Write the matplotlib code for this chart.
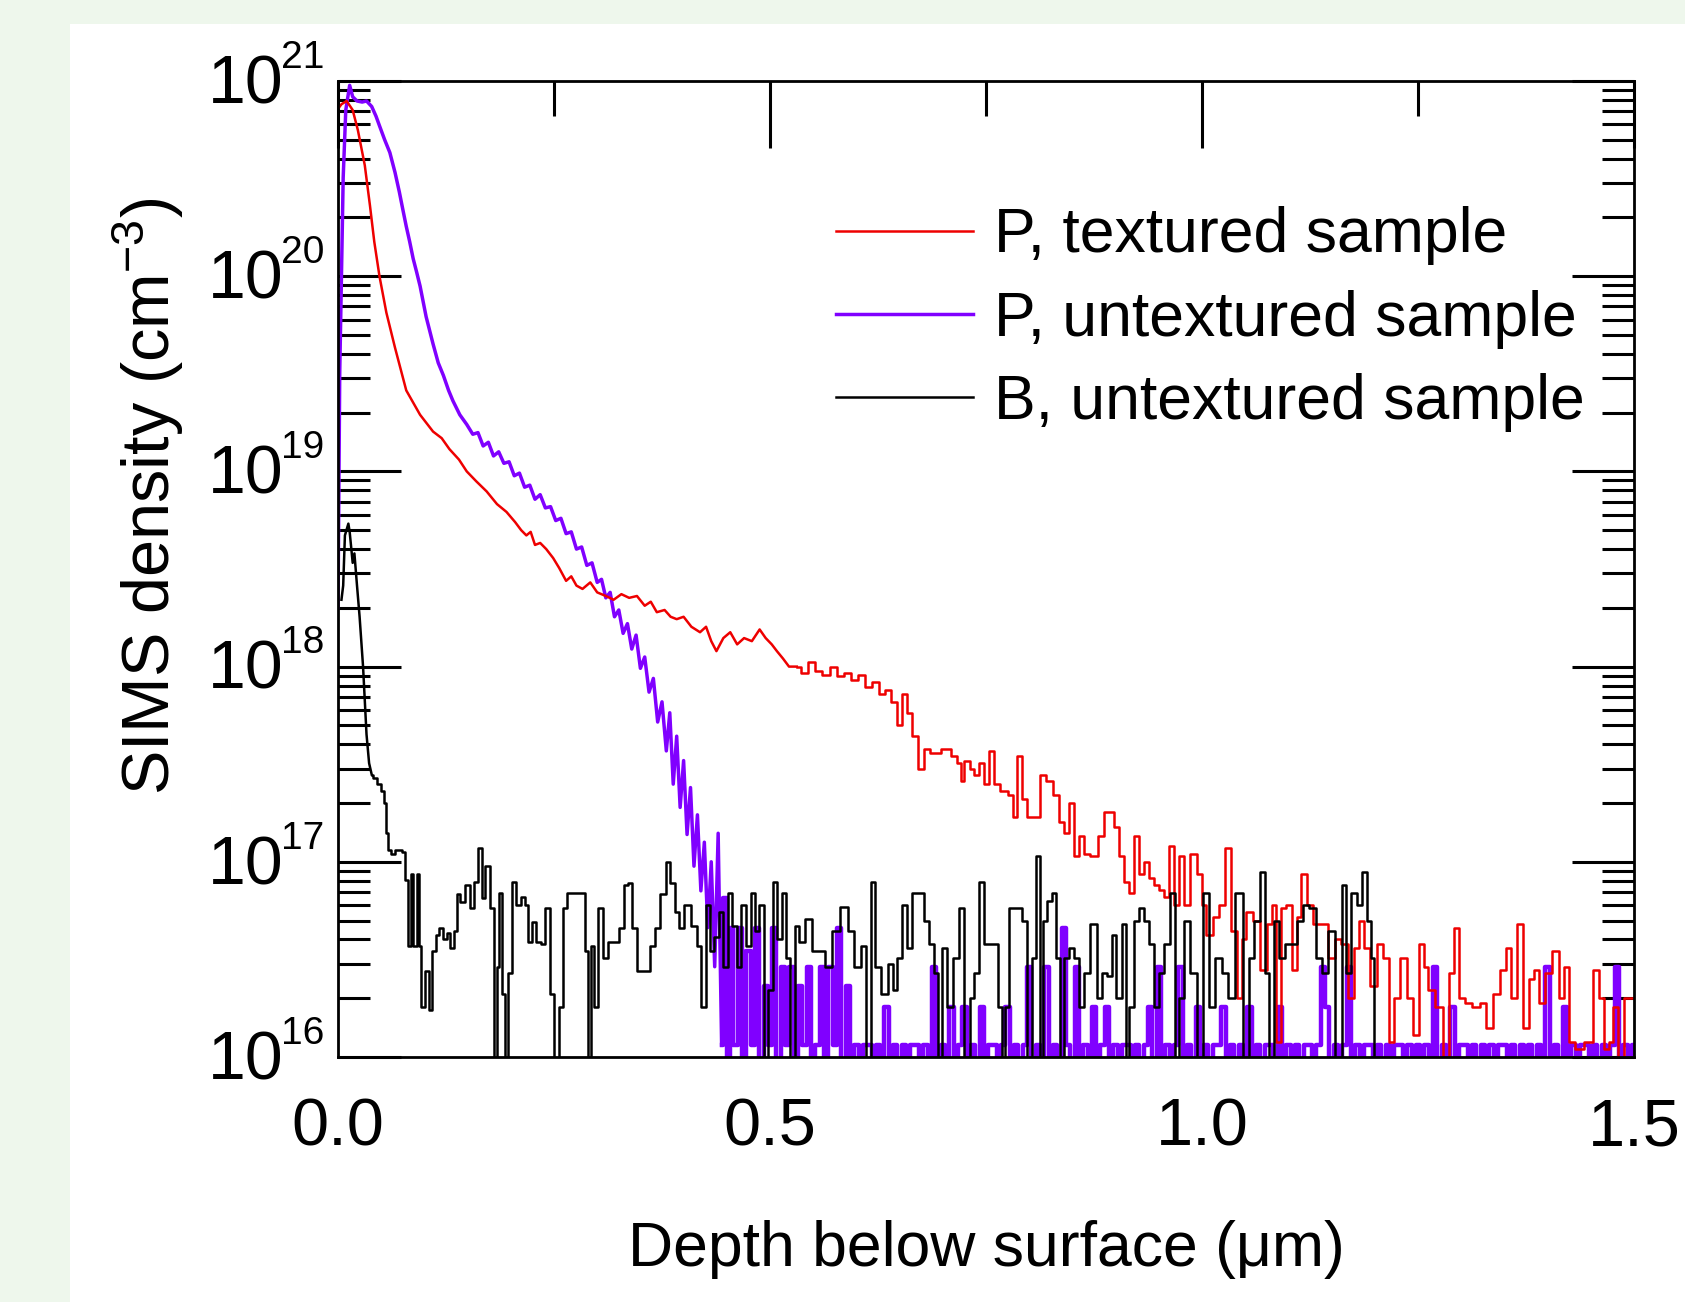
import matplotlib
matplotlib.use("Agg")
import matplotlib.pyplot as plt
from matplotlib.patches import Rectangle
from matplotlib.ticker import LogLocator, NullFormatter

plt.rcParams['font.family'] = ['Liberation Sans', 'DejaVu Sans']
plt.rcParams['mathtext.fontset'] = 'custom'
plt.rcParams['mathtext.rm'] = 'Liberation Sans'
plt.rcParams['mathtext.it'] = 'Liberation Sans:italic'
plt.rcParams['mathtext.bf'] = 'Liberation Sans:bold'
plt.rcParams['path.simplify'] = False

series_labels = ['P, textured sample', 'P, untextured sample', 'B, untextured sample']
x_ticks = [0.0, 0.5, 1.0, 1.5]
x_tick_labels = ['0.0', '0.5', '1.0', '1.5']
x_minor_ticks = [0.25, 0.75, 1.25]
y_exponents = [16, 17, 18, 19, 20, 21]

# P, textured sample (depth in um, density in cm^-3)
red_head_depth = [0.0, 0.004, 0.01, 0.017, 0.023, 0.031, 0.037, 0.042, 0.048, 0.056,
                  0.066, 0.079, 0.095, 0.11, 0.12, 0.129, 0.14, 0.149, 0.16, 0.172,
                  0.184, 0.195, 0.205, 0.212, 0.218, 0.223, 0.228, 0.234, 0.241, 0.249,
                  0.256, 0.264, 0.27, 0.276, 0.283, 0.292, 0.3, 0.31, 0.319, 0.328,
                  0.337, 0.346, 0.355, 0.362, 0.369, 0.378, 0.385, 0.392, 0.4, 0.409,
                  0.419, 0.426, 0.432, 0.438, 0.446, 0.454, 0.462, 0.47, 0.479, 0.488,
                  0.495, 0.502, 0.508, 0.515, 0.522, 0.531]
red_head_density = [7.2e20, 7.6e20, 7.9e20, 7.1e20, 5.6e20, 3.7e20, 2.3e20, 1.5e20, 1.0e20, 6.5e19,
                    4.3e19, 2.6e19, 1.95e19, 1.6e19, 1.48e19, 1.3e19, 1.15e19, 1.0e19, 8.9e18, 7.9e18,
                    6.8e18, 6.2e18, 5.5e18, 5.0e18, 4.7e18, 4.9e18, 4.2e18, 4.3e18, 4.0e18, 3.6e18,
                    3.2e18, 2.75e18, 2.9e18, 2.6e18, 2.5e18, 2.7e18, 2.4e18, 2.3e18, 2.2e18, 2.35e18,
                    2.25e18, 2.3e18, 2.05e18, 2.15e18, 1.9e18, 1.95e18, 1.8e18, 1.75e18, 1.8e18, 1.6e18,
                    1.5e18, 1.6e18, 1.35e18, 1.2e18, 1.4e18, 1.5e18, 1.3e18, 1.4e18, 1.35e18, 1.55e18,
                    1.4e18, 1.3e18, 1.2e18, 1.1e18, 1.0e18, 1.0e18]
red_tail_depth = [0.531, 0.54, 0.548, 0.556, 0.565, 0.574, 0.582, 0.59, 0.598, 0.606,
                  0.614, 0.622, 0.63, 0.637, 0.644, 0.65, 0.656, 0.661, 0.667, 0.676,
                  0.681, 0.69, 0.705, 0.713, 0.719, 0.722, 0.728, 0.734, 0.739, 0.745,
                  0.751, 0.757, 0.762, 0.771, 0.78, 0.783, 0.789, 0.794, 0.8, 0.809,
                  0.815, 0.823, 0.832, 0.838, 0.843, 0.849, 0.855, 0.861, 0.866, 0.875,
                  0.884, 0.89, 0.895, 0.901, 0.907, 0.913, 0.918, 0.924, 0.93, 0.936,
                  0.942, 0.947, 0.953, 0.959, 0.965, 0.971, 0.976, 0.982, 0.991, 0.997,
                  1.002, 1.008, 1.017, 1.023, 1.031, 1.037, 1.043, 1.049, 1.054, 1.063,
                  1.072, 1.078, 1.083, 1.089, 1.094, 1.101, 1.107, 1.112, 1.118, 1.124,
                  1.132, 1.141, 1.15, 1.158, 1.164, 1.173, 1.179, 1.184, 1.19, 1.199,
                  1.205, 1.213, 1.219, 1.225, 1.234, 1.24, 1.248, 1.254, 1.259, 1.265,
                  1.274, 1.283, 1.289, 1.294, 1.3, 1.309, 1.317, 1.326, 1.332, 1.341,
                  1.349, 1.355, 1.361, 1.369, 1.375, 1.381, 1.387, 1.393, 1.401, 1.41,
                  1.416, 1.422, 1.427, 1.436, 1.448, 1.456, 1.462, 1.468, 1.473, 1.479,
                  1.485, 1.491, 1.5]
red_tail_density = [1.0e18, 9.3e17, 1.05e18, 9.5e17, 9.1e17, 1.0e18, 8.9e17, 9.3e17, 8.5e17, 9.1e17,
                    7.9e17, 8.3e17, 7.2e17, 7.6e17, 6.6e17, 5.0e17, 7.2e17, 5.8e17, 4.4e17, 3.0e17,
                    3.8e17, 3.6e17, 3.8e17, 3.5e17, 3.2e17, 2.6e17, 3.3e17, 3.0e17, 2.8e17, 3.2e17,
                    2.5e17, 3.7e17, 2.5e17, 2.3e17, 2.2e17, 1.7e17, 3.5e17, 2.1e17, 1.7e17, 1.7e17,
                    2.8e17, 2.6e17, 2.2e17, 1.6e17, 1.4e17, 2.0e17, 1.07e17, 1.35e17, 1.1e17, 1.07e17,
                    1.35e17, 1.8e17, 1.8e17, 1.5e17, 1.07e17, 7.9e16, 6.9e16, 1.35e17, 8.7e16, 1.0e17,
                    8.3e16, 7.6e16, 7.2e16, 6.6e16, 1.2e17, 6.0e16, 1.07e17, 6.0e16, 1.1e17, 8.7e16,
                    6.0e16, 4.2e16, 5.2e16, 6.0e16, 1.17e17, 4.4e16, 2.0e16, 4.0e16, 5.5e16, 5.0e16,
                    2.8e16, 4.8e16, 6.0e16, 1.2e16, 5.8e16, 6.0e16, 2.8e16, 5.2e16, 8.7e16, 6.0e16,
                    4.8e16, 4.8e16, 3.2e16, 4.0e16, 3.8e16, 2.0e16, 3.6e16, 5.0e16, 3.6e16, 2.3e16,
                    3.8e16, 3.2e16, 1.2e16, 2.0e16, 3.2e16, 2.0e16, 1.3e16, 3.8e16, 2.9e16, 2.2e16,
                    1.8e16, 1e15, 2.7e16, 4.6e16, 2.0e16, 1.9e16, 1.8e16, 1.9e16, 1.4e16, 2.1e16,
                    2.8e16, 3.6e16, 2.0e16, 4.8e16, 1.4e16, 2.5e16, 2.8e16, 1.9e16, 2.7e16, 3.5e16,
                    2.0e16, 2.9e16, 1.2e16, 1.1e16, 1.2e16, 2.8e16, 2.0e16, 1.1e16, 1.2e16, 1.8e16,
                    1e15, 2.0e16, 2.0e16]

# P, untextured sample
purple_head_depth = [0.0, 0.001, 0.002, 0.004, 0.006, 0.009, 0.0135, 0.017, 0.022, 0.028,
                     0.033, 0.039, 0.044, 0.048, 0.054, 0.06, 0.066, 0.071, 0.075, 0.079,
                     0.083, 0.087, 0.091, 0.095, 0.102, 0.11, 0.116, 0.122, 0.128, 0.133,
                     0.141, 0.149, 0.156, 0.162, 0.168, 0.174, 0.18, 0.186, 0.192, 0.198,
                     0.204, 0.21, 0.216, 0.222, 0.228, 0.234, 0.24, 0.246, 0.252, 0.258,
                     0.264, 0.27, 0.276, 0.282, 0.288, 0.294, 0.3, 0.305, 0.31, 0.315,
                     0.32, 0.325, 0.33, 0.335, 0.34, 0.345, 0.35, 0.355, 0.36, 0.365,
                     0.37, 0.375, 0.38, 0.384, 0.388, 0.392, 0.396, 0.4, 0.404, 0.408,
                     0.412, 0.416, 0.42, 0.424, 0.428, 0.432, 0.436, 0.44, 0.444]
purple_head_density = [2.0e18, 8.0e18, 3.2e19, 1.0e20, 3.2e20, 7.1e20, 9.5e20, 8.3e20, 7.9e20, 7.8e20,
                       7.9e20, 7.4e20, 6.6e20, 5.9e20, 5.0e20, 4.3e20, 3.4e20, 2.7e20, 2.2e20, 1.8e20,
                       1.5e20, 1.23e20, 1.05e20, 8.9e19, 6.2e19, 4.5e19, 3.6e19, 3.1e19, 2.6e19, 2.3e19,
                       1.95e19, 1.74e19, 1.55e19, 1.58e19, 1.35e19, 1.41e19, 1.2e19, 1.26e19, 1.1e19, 1.12e19,
                       9.5e18, 9.8e18, 8.3e18, 8.5e18, 7.2e18, 7.6e18, 6.5e18, 6.6e18, 5.6e18, 5.75e18,
                       4.8e18, 4.9e18, 4.0e18, 4.1e18, 3.3e18, 3.4e18, 2.7e18, 2.8e18, 2.25e18, 2.4e18,
                       1.8e18, 1.95e18, 1.48e18, 1.66e18, 1.23e18, 1.45e18, 9.8e17, 1.12e18, 7.4e17, 8.7e17,
                       5.2e17, 6.6e17, 3.7e17, 5.8e17, 2.5e17, 4.4e17, 1.9e17, 3.3e17, 1.38e17, 2.4e17,
                       9.5e16, 1.74e17, 7.1e16, 1.26e17, 4.6e16, 1.0e17, 2.9e16, 1.4e17, 1.15e16]
purple_tail_depth = [0.444, 0.448, 0.452,
                     0.455, 0.46, 0.465, 0.47, 0.475, 0.48, 0.485, 0.49, 0.495, 0.5,
                     0.505, 0.51, 0.515, 0.52, 0.525, 0.53, 0.535, 0.54, 0.545, 0.55,
                     0.555, 0.56, 0.565, 0.57, 0.575, 0.58, 0.585, 0.59, 0.595, 0.6,
                     0.605, 0.61, 0.615, 0.62, 0.625, 0.63, 0.635, 0.64, 0.645, 0.65,
                     0.655, 0.66, 0.665, 0.67, 0.675, 0.68, 0.685, 0.69, 0.695, 0.7,
                     0.705, 0.71, 0.715, 0.72, 0.725, 0.73, 0.735, 0.74, 0.745, 0.75,
                     0.755, 0.76, 0.765, 0.77, 0.775, 0.78, 0.785, 0.79, 0.795, 0.8,
                     0.805, 0.81, 0.815, 0.82, 0.825, 0.83, 0.835, 0.84, 0.845, 0.85,
                     0.855, 0.86, 0.865, 0.87, 0.875, 0.88, 0.885, 0.89, 0.895, 0.9,
                     0.905, 0.91, 0.915, 0.92, 0.925, 0.93, 0.935, 0.94, 0.945, 0.95,
                     0.955, 0.96, 0.965, 0.97, 0.975, 0.98, 0.985, 0.99, 0.995, 1.0,
                     1.005, 1.01, 1.015, 1.02, 1.025, 1.03, 1.035, 1.04, 1.045, 1.05,
                     1.055, 1.06, 1.065, 1.07, 1.075, 1.08, 1.085, 1.09, 1.095, 1.1,
                     1.105, 1.11, 1.115, 1.12, 1.125, 1.13, 1.135, 1.14, 1.145, 1.15,
                     1.155, 1.16, 1.165, 1.17, 1.175, 1.18, 1.185, 1.19, 1.195, 1.2,
                     1.205, 1.21, 1.215, 1.22, 1.225, 1.23, 1.235, 1.24, 1.245, 1.25,
                     1.255, 1.26, 1.265, 1.27, 1.275, 1.28, 1.285, 1.29, 1.295, 1.3,
                     1.305, 1.31, 1.315, 1.32, 1.325, 1.33, 1.335, 1.34, 1.345, 1.35,
                     1.355, 1.36, 1.365, 1.37, 1.375, 1.38, 1.385, 1.39, 1.395, 1.4,
                     1.405, 1.41, 1.415, 1.42, 1.425, 1.43, 1.435, 1.44, 1.445, 1.45,
                     1.455, 1.46, 1.465, 1.47, 1.475, 1.48, 1.485, 1.49, 1.495, 1.5]
# 1e15 marks a channel with no counts (below the axis floor)
purple_tail_density = [1.15e16, 6.5e16, 1e15,
                       4.6e16, 1.15e16, 4.6e16, 1e15, 3.5e16, 1.15e16, 4.6e16, 1e15, 2.3e16, 1.15e16,
                       4.6e16, 1e15, 2.9e16, 1.15e16, 2.9e16, 1e15, 2.3e16, 1.15e16, 2.9e16, 1e15,
                       1.15e16, 2.9e16, 1e15, 2.9e16, 1.15e16, 4.6e16, 1e15, 2.3e16, 1e15, 1.15e16,
                       1e15, 1.15e16, 1.15e16, 1e15, 1.15e16, 1e15, 1.8e16, 1e15, 1.15e16, 1e15,
                       1.15e16, 1e15, 1.15e16, 1.15e16, 1e15, 1.15e16, 1e15, 2.9e16, 1e15, 1.15e16,
                       1e15, 1.8e16, 1e15, 1.15e16, 1.8e16, 1e15, 1.15e16, 1e15, 1.8e16, 1e15,
                       1.15e16, 1.15e16, 1e15, 1.15e16, 1.8e16, 1e15, 1.15e16, 1e15, 1.15e16, 2.9e16,
                       1e15, 1.15e16, 1e15, 2.9e16, 1e15, 1.15e16, 1e15, 4.6e16, 1.15e16, 1e15,
                       2.9e16, 1e15, 1.15e16, 1e15, 1.8e16, 1e15, 1.15e16, 1.8e16, 1e15, 1.15e16,
                       1e15, 1.15e16, 1.15e16, 1e15, 1.15e16, 1e15, 1.15e16, 1.8e16, 1e15, 2.9e16,
                       1e15, 1.15e16, 1e15, 1.15e16, 2.9e16, 1e15, 1.15e16, 1e15, 1.8e16, 1e15,
                       1.15e16, 1e15, 1.15e16, 1.15e16, 1.8e16, 1e15, 1.15e16, 1e15, 1.15e16, 1e15,
                       1.8e16, 1e15, 1.15e16, 1e15, 1.15e16, 1.15e16, 1e15, 1.8e16, 1e15, 1.15e16,
                       1e15, 1.15e16, 1e15, 1.15e16, 1.15e16, 1e15, 1.15e16, 2.9e16, 1.8e16, 1e15,
                       1.15e16, 1e15, 1.15e16, 2.9e16, 1e15, 1.15e16, 1e15, 1.15e16, 1.15e16, 1e15,
                       1.15e16, 1e15, 1.15e16, 1e15, 1.15e16, 1.15e16, 1e15, 1.15e16, 1e15, 1.15e16,
                       1e15, 1.15e16, 1e15, 2.9e16, 1e15, 1.15e16, 1e15, 1.8e16, 1e15, 1.15e16,
                       1.15e16, 1e15, 1.15e16, 1e15, 1.15e16, 1e15, 1.15e16, 1e15, 1.15e16, 1.15e16,
                       1e15, 1.15e16, 1e15, 1.15e16, 1e15, 1.15e16, 1e15, 1.15e16, 1e15, 2.9e16,
                       1e15, 1.15e16, 1e15, 1.8e16, 1e15, 1.15e16, 1e15, 1.15e16, 1.15e16, 1e15,
                       1.15e16, 1e15, 1.15e16, 1e15, 1.15e16, 2.9e16, 1e15, 1.15e16, 1e15, 1.15e16]

# B, untextured sample
black_head_depth = [0.004, 0.006, 0.008, 0.012, 0.0135, 0.017, 0.019, 0.022, 0.025, 0.029,
                    0.033, 0.036, 0.039]
black_head_density = [2.2e18, 2.6e18, 4.7e18, 5.4e18, 4.9e18, 3.4e18, 3.8e18, 2.6e18, 1.8e18, 1.0e18,
                      4.5e17, 3.2e17, 2.8e17]
black_tail_depth = [0.039, 0.043, 0.048, 0.052, 0.054, 0.057, 0.059, 0.064, 0.068, 0.072,
                    0.077, 0.079, 0.083, 0.085, 0.089, 0.093, 0.095, 0.098, 0.103, 0.107,
                    0.111, 0.115, 0.119, 0.124, 0.128, 0.132, 0.136, 0.139, 0.144, 0.15,
                    0.155, 0.16, 0.165, 0.168, 0.173, 0.178, 0.182, 0.185, 0.188, 0.192,
                    0.194, 0.199, 0.204, 0.209, 0.214, 0.218, 0.222, 0.227, 0.232, 0.237,
                    0.243, 0.248, 0.253, 0.258, 0.263, 0.268, 0.276, 0.284, 0.287, 0.291,
                    0.294, 0.299, 0.304, 0.309, 0.315, 0.322, 0.328, 0.333, 0.338, 0.343,
                    0.348, 0.354, 0.359, 0.364, 0.369, 0.377, 0.382, 0.387, 0.392, 0.397,
                    0.405, 0.413, 0.418, 0.423, 0.428, 0.433, 0.438, 0.443, 0.449, 0.454,
                    0.459, 0.464, 0.469, 0.475, 0.48, 0.485, 0.49, 0.495, 0.5, 0.506,
                    0.511, 0.516, 0.521, 0.526, 0.531, 0.537, 0.545, 0.552, 0.56, 0.568,
                    0.575, 0.586, 0.594, 0.601, 0.609, 0.614, 0.619, 0.624, 0.632, 0.64,
                    0.645, 0.65, 0.656, 0.661, 0.667, 0.676, 0.681, 0.687, 0.693, 0.696,
                    0.702, 0.708, 0.716, 0.722, 0.728, 0.734, 0.739, 0.745, 0.751, 0.757,
                    0.762, 0.765, 0.771, 0.774, 0.78, 0.789, 0.794, 0.801, 0.806, 0.81,
                    0.814, 0.819, 0.823, 0.829, 0.834, 0.838, 0.843, 0.849, 0.855, 0.861,
                    0.866, 0.875, 0.881, 0.887, 0.893, 0.898, 0.904, 0.91, 0.914, 0.918,
                    0.924, 0.93, 0.936, 0.942, 0.947, 0.953, 0.959, 0.966, 0.971, 0.976,
                    0.982, 0.991, 0.997, 1.005, 1.011, 1.02, 1.026, 1.034, 1.043, 1.052,
                    1.057, 1.063, 1.071, 1.075, 1.081, 1.086, 1.092, 1.101, 1.107, 1.112,
                    1.121, 1.127, 1.136, 1.141, 1.15, 1.159, 1.164, 1.17, 1.176, 1.182,
                    1.189, 1.193, 1.198, 1.2]
black_tail_density = [2.8e17, 2.7e17, 2.5e17, 2.3e17, 2.0e17, 1.4e17, 1.15e17, 1.1e17, 1.15e17, 1.15e17,
                      1.12e17, 8.1e16, 3.7e16, 8.7e16, 3.7e16, 8.7e16, 3.7e16, 1.8e16, 2.75e16, 1.75e16,
                      3.5e16, 4.2e16, 4.6e16, 4.0e16, 4.3e16, 3.6e16, 4.4e16, 6.8e16, 6.2e16, 7.6e16,
                      5.8e16, 7.9e16, 1.17e17, 6.5e16, 9.5e16, 5.8e16, 1e15, 2.9e16, 6.9e16, 2.1e16,
                      1e15, 2.7e16, 7.9e16, 6.0e16, 6.6e16, 6.0e16, 3.9e16, 4.9e16, 3.9e16, 3.8e16,
                      5.8e16, 2.1e16, 1e15, 1.8e16, 5.8e16, 6.9e16, 6.9e16, 6.9e16, 3.5e16, 1e15,
                      3.7e16, 1.8e16, 5.8e16, 3.2e16, 3.9e16, 3.9e16, 4.6e16, 7.6e16, 7.8e16, 4.6e16,
                      2.75e16, 2.75e16, 2.75e16, 3.7e16, 4.6e16, 6.8e16, 1.0e17, 7.8e16, 5.5e16, 4.6e16,
                      6.0e16, 4.7e16, 3.7e16, 1.8e16, 6.0e16, 3.5e16, 4.1e16, 5.5e16, 2.9e16, 6.9e16,
                      4.7e16, 2.9e16, 6.0e16, 3.7e16, 6.9e16, 4.4e16, 6.0e16, 1e15, 2.2e16, 7.9e16,
                      4.0e16, 6.9e16, 3.2e16, 1e15, 4.7e16, 3.9e16, 5.1e16, 3.5e16, 3.5e16, 2.9e16,
                      4.4e16, 5.9e16, 4.4e16, 2.9e16, 3.7e16, 1e15, 7.9e16, 2.9e16, 2.1e16, 3.0e16,
                      2.2e16, 3.2e16, 6.0e16, 3.6e16, 6.9e16, 6.9e16, 5.0e16, 3.8e16, 2.7e16, 1e15,
                      3.6e16, 1.8e16, 3.2e16, 5.8e16, 1e15, 2.0e16, 2.7e16, 7.9e16, 3.8e16, 3.8e16,
                      3.8e16, 1.8e16, 1e15, 1.8e16, 5.8e16, 5.8e16, 5.0e16, 1e15, 3.2e16, 1.07e17,
                      1e15, 5.0e16, 6.3e16, 6.9e16, 3.2e16, 1e15, 3.2e16, 3.6e16, 3.2e16, 1.8e16,
                      2.7e16, 4.8e16, 2.0e16, 2.7e16, 2.6e16, 4.2e16, 2.0e16, 4.8e16, 1e15, 1.8e16,
                      5.0e16, 5.8e16, 5.0e16, 3.8e16, 1.8e16, 2.7e16, 3.8e16, 6.9e16, 1e15, 2.0e16,
                      5.0e16, 2.7e16, 1e15, 6.9e16, 1.8e16, 3.2e16, 2.7e16, 2.0e16, 6.9e16, 1e15,
                      3.2e16, 5.0e16, 8.9e16, 2.7e16, 1e15, 5.0e16, 3.2e16, 3.8e16, 3.8e16, 5.0e16,
                      6.0e16, 5.8e16, 3.2e16, 2.7e16, 4.4e16, 1e15, 7.6e16, 2.7e16, 6.9e16, 6.0e16,
                      8.9e16, 5.0e16, 3.2e16, 1e15]

RED = '#ee0000'
PURPLE = '#8000ff'
BLACK = '#000000'

W, H = 1685, 1302
fig = plt.figure(figsize=(W / 100, H / 100), dpi=100, facecolor='#eef7ec')
fig.add_artist(Rectangle((70 / W, 0), 1 - 70 / W, 1 - 24 / H, transform=fig.transFigure,
                         facecolor='white', edgecolor='none', zorder=-1))

ax = fig.add_axes([338 / W, 1 - 1057 / H, 1296 / W, 976 / H])
ax.set_yscale('log')

ax.plot(purple_head_depth, purple_head_density, color=PURPLE, lw=2.5)
ax.plot(purple_tail_depth, purple_tail_density, color=PURPLE, lw=3.2, drawstyle='steps-mid')
ax.plot(red_head_depth, red_head_density, color=RED, lw=1.8)
ax.plot(red_tail_depth, red_tail_density, color=RED, lw=1.8, drawstyle='steps-mid')
ax.plot(black_head_depth, black_head_density, color=BLACK, lw=1.8)
ax.plot(black_tail_depth, black_tail_density, color=BLACK, lw=1.8, drawstyle='steps-mid')

ax.set_xlim(0, 1.5)
ax.set_ylim(10.0 ** y_exponents[0], 10.0 ** y_exponents[-1])

for s in ax.spines.values():
    s.set_linewidth(2.0)

ax.set_xticks(x_ticks)
ax.set_xticklabels(x_tick_labels)
ax.set_xticks(x_minor_ticks, minor=True)
ax.tick_params(axis='x', which='both', direction='in', bottom=False, top=True,
               labelbottom=True, labeltop=False, width=2.2, labelsize=48, pad=29)
ax.tick_params(axis='x', which='major', length=48)
ax.tick_params(axis='x', which='minor', length=25)

ax.yaxis.set_major_locator(LogLocator(base=10, numticks=10))
ax.yaxis.set_minor_locator(LogLocator(base=10, subs=[2, 3, 4, 5, 6, 7, 8, 9], numticks=20))
ax.yaxis.set_major_formatter(NullFormatter())
ax.yaxis.set_minor_formatter(NullFormatter())
ax.tick_params(axis='y', which='both', direction='in', left=True, right=True, width=2.2)
ax.tick_params(axis='y', which='major', length=45)
ax.tick_params(axis='y', which='minor', length=23)

# y tick labels drawn as "10" with a small raised exponent
for k in y_exponents:
    ax.annotate('10', xy=(0, 10.0 ** k), xycoords=('axes fraction', 'data'),
                xytext=(-39.5, -16), textcoords='offset points',
                ha='right', va='baseline', fontsize=49, annotation_clip=False)
    ax.annotate(str(k), xy=(0, 10.0 ** k), xycoords=('axes fraction', 'data'),
                xytext=(-41, 9.5), textcoords='offset points',
                ha='left', va='baseline', fontsize=28, annotation_clip=False)

fig.text(986 / W, 1 - 1266 / H, 'Depth below surface (\u03bcm)', fontsize=45,
         ha='center', va='baseline')
fig.text(170 / W, 1 - 496 / H, 'SIMS density (cm$^{-3}$)', fontsize=48,
         rotation=90, rotation_mode='anchor', ha='center', va='baseline')

handles = [ax.lines[2], ax.lines[0], ax.lines[4]]
ax.legend(handles, series_labels, loc='upper left', bbox_to_anchor=(0.384, 0.8715),
          frameon=False, fontsize=45, handlelength=2.2, handletextpad=0.34,
          labelspacing=0.39, borderpad=0, borderaxespad=0)

fig.savefig('out.png', dpi=100, facecolor=fig.get_facecolor())
